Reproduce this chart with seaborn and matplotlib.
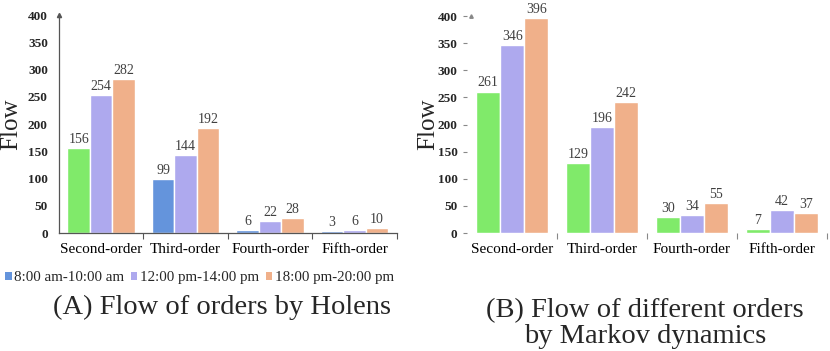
import numpy as np
import pandas as pd
import matplotlib
matplotlib.use("Agg")
import matplotlib.pyplot as plt
import seaborn as sns
from matplotlib.patches import Patch

# -------- DATOS --------
ORDERS = ["Second-order", "Third-order", "Fourth-order", "Fifth-order"]
PERIODS = ["8:00 am-10:00 am", "12:00 pm-14:00 pm", "18:00 pm-20:00 pm"]

HOLENS_AM = [156, 99, 6, 3]
HOLENS_NOON = [254, 144, 22, 6]
HOLENS_EVE = [282, 192, 28, 10]

MARKOV_AM = [261, 129, 30, 7]
MARKOV_NOON = [346, 196, 34, 42]
MARKOV_EVE = [396, 242, 55, 37]

Y_TICKS = [0, 50, 100, 150, 200, 250, 300, 350, 400]

GREEN = "#80EA6A"
BLUE = "#6494DC"
PURPLE = "#AEA9EE"
ORANGE = "#F0B08A"
TEXT = "#404040"


def long_df(am, noon, eve):
    return pd.DataFrame({
        "order": ORDERS * 3,
        "period": np.repeat(PERIODS, len(ORDERS)),
        "flow": am + noon + eve,
    })


sns.set_style("white")
plt.rcParams["font.family"] = ["Liberation Serif", "DejaVu Serif"]

fig = plt.figure(figsize=(8.3, 3.51), dpi=100)
ax_a = fig.add_axes([0.071, 0.336, 0.407, 0.621])
ax_b = fig.add_axes([0.563, 0.336, 0.433, 0.618])

# -------- PANEL A --------
df_a = long_df(HOLENS_AM, HOLENS_NOON, HOLENS_EVE)
sns.barplot(data=df_a, x="order", y="flow", hue="period", hue_order=PERIODS,
            palette=[BLUE, PURPLE, ORANGE], saturation=1, width=0.8,
            edgecolor="white", linewidth=1, ax=ax_a, legend=False)
# en el original la primera barra sale verde
ax_a.containers[0][0].set_facecolor(GREEN)

# -------- PANEL B --------
df_b = long_df(MARKOV_AM, MARKOV_NOON, MARKOV_EVE)
sns.barplot(data=df_b, x="order", y="flow", hue="period", hue_order=PERIODS,
            palette=[GREEN, PURPLE, ORANGE], saturation=1, width=0.8,
            edgecolor="white", linewidth=1, ax=ax_b, legend=False)

for ax in (ax_a, ax_b):
    for cont in ax.containers:
        ax.bar_label(cont, padding=1.5, fontsize=10, color=TEXT)
    ax.set_xlim(-0.5, 3.5)
    ax.set_ylim(0, 400)
    ax.set_xticks(range(len(ORDERS)), labels=ORDERS, fontsize=11)
    ax.set_xticks([0.5, 1.5, 2.5, 3.5], minor=True)
    ax.set_yticks(Y_TICKS, labels=[str(t) for t in Y_TICKS],
                  fontsize=9.5, fontweight="bold")
    ax.tick_params(axis="x", which="major", length=0, pad=7, colors="black")
    ax.tick_params(axis="x", which="minor", length=4, width=0.8,
                   direction="out", color="#555555", bottom=True)
    ax.set_xlabel("")
    ax.set_ylabel("Flow", fontsize=18)
    ax.yaxis.label.set_va("center")

# ejes panel A: lineas visibles
for side in ("top", "right"):
    ax_a.spines[side].set_visible(False)
for side in ("left", "bottom"):
    ax_a.spines[side].set_color("#555555")
    ax_a.spines[side].set_linewidth(0.9)
ax_a.tick_params(axis="y", length=0, pad=8)
ax_a.plot(0, 1, marker="^", color="#555555", markersize=3,
          transform=ax_a.transAxes, clip_on=False)
ax_a.yaxis.set_label_coords(-0.14, 0.5)

# ejes panel B: sin lineas, solo marcas
for side in ax_b.spines:
    ax_b.spines[side].set_visible(False)
ax_b.tick_params(axis="y", length=3, width=0.8, color="#888888",
                 direction="out", left=True, pad=4)
ax_b.tick_params(axis="x", which="minor", color="#888888")
ax_b.plot(0.01, 1, marker="^", color="#888888", markersize=2.5,
          transform=ax_b.transAxes, clip_on=False)
ax_b.yaxis.set_label_coords(-0.108, 0.5)

# -------- LEYENDA Y TITULOS --------
handles = [Patch(facecolor=c, edgecolor="none") for c in (BLUE, PURPLE, ORANGE)]
fig.legend(handles, PERIODS, loc="center", bbox_to_anchor=(0.24, 0.208),
           ncol=3, frameon=False, fontsize=10.8, handlelength=0.45,
           handleheight=0.45, handletextpad=0.15, columnspacing=0.45)

fig.text(0.267, 0.123, "(A) Flow of orders by Holens", ha="center",
         va="center", fontsize=20.5)
fig.text(0.777, 0.079, "(B) Flow of different orders\nby Markov dynamics",
         ha="center", va="center", fontsize=20.5, linespacing=1.05)

fig.savefig("out.png", dpi=100)
